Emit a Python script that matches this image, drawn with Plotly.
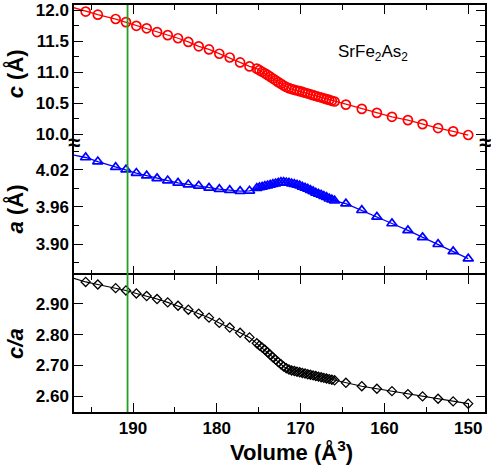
import plotly.graph_objects as go

# объём ячейки (Å^3)
volume = [198.0, 195.65, 194.2, 192.07, 190.84, 189.6, 188.37, 187.13, 185.86, 184.63,
          183.4, 182.16, 180.93, 179.7, 178.46, 177.22, 176.1,
          175.23, 174.91, 174.59, 174.27, 173.95, 173.63, 173.31, 172.99, 172.67, 172.35,
          172.03, 171.71, 171.39, 171.07, 170.75, 170.43, 170.11, 169.79, 169.47, 169.15,
          168.83, 168.51, 168.19, 167.87, 167.55, 167.23, 166.91, 166.59, 166.27, 165.95,
          164.6, 162.7, 160.9, 159.1, 157.2, 155.45, 153.6, 151.8, 150.0]

c_param = [12.08, 11.98, 11.93, 11.86, 11.81, 11.75, 11.71, 11.65, 11.60, 11.55,
           11.49, 11.42, 11.37, 11.30, 11.24, 11.16, 11.095,
           11.06, 11.035, 11.01, 10.985, 10.958, 10.93, 10.90, 10.872, 10.843, 10.816,
           10.788, 10.764, 10.746, 10.731, 10.719, 10.708, 10.698, 10.684, 10.671, 10.659,
           10.646, 10.633, 10.619, 10.607, 10.595, 10.582, 10.569, 10.555, 10.542, 10.53,
           10.48, 10.411, 10.347, 10.283, 10.23, 10.166, 10.102, 10.049, 9.99]

a_param = [4.046, 4.0396, 4.033, 4.024, 4.020, 4.0146, 4.0104, 4.006, 4.0025, 3.9987,
           3.996, 3.994, 3.9907, 3.9886, 3.987, 3.9855, 3.986,
           3.9902, 3.9913, 3.9923, 3.9934, 3.9945, 3.9955, 3.9966, 3.9977, 3.9987, 3.9998,
           3.9998, 3.9993, 3.9987, 3.9977, 3.9966, 3.9955, 3.9945, 3.9923, 3.9907, 3.9891,
           3.987, 3.985, 3.9828, 3.9812, 3.9796, 3.9775, 3.9759, 3.9732, 3.9716, 3.970,
           3.9653, 3.9547, 3.944, 3.9334, 3.9223, 3.9111, 3.900, 3.8884, 3.8768]

c_over_a = [2.99, 2.9707, 2.9623, 2.9505, 2.943, 2.9334, 2.9248, 2.9151, 2.9044, 2.8936,
            2.8807, 2.8678, 2.855, 2.838, 2.8228, 2.8058, 2.791,
            2.772, 2.765, 2.758, 2.751, 2.743, 2.735, 2.727, 2.719, 2.711, 2.704,
            2.697, 2.691, 2.687, 2.684, 2.682, 2.680, 2.678, 2.676, 2.674, 2.672,
            2.670, 2.668, 2.666, 2.664, 2.662, 2.660, 2.658, 2.656, 2.654, 2.652,
            2.644, 2.633, 2.6247, 2.617, 2.6074, 2.600, 2.5925, 2.5839, 2.5765]

v_mark = 190.65  # зелёная вертикальная линия

FONT = 'Liberation Sans'
tickfont = dict(family=FONT, size=17, color='black', weight=700)
titlefont = dict(family=FONT, size=22, color='black', weight=700)

fig = go.Figure()
fig.add_trace(go.Scatter(x=volume, y=c_param, xaxis='x', yaxis='y', mode='lines+markers',
                         line=dict(color='red', width=1.3),
                         marker=dict(symbol='circle-open', size=9, color='red', line=dict(width=1.7))))
fig.add_trace(go.Scatter(x=volume, y=a_param, xaxis='x2', yaxis='y2', mode='lines+markers',
                         line=dict(color='blue', width=1.3),
                         marker=dict(symbol='triangle-up-open', size=9, color='blue', line=dict(width=1.7))))
fig.add_trace(go.Scatter(x=volume, y=c_over_a, xaxis='x3', yaxis='y3', mode='lines+markers',
                         line=dict(color='black', width=1.1),
                         marker=dict(symbol='diamond-open', size=7, color='black', line=dict(width=1.3))))

xr = [197.04, 148.0]
ax = dict(showline=True, linecolor='black', linewidth=1.5, ticks='inside', ticklen=9,
          tickwidth=1.3, tickcolor='black', showgrid=False, zeroline=False, tickfont=tickfont,
          ticklabeloverflow='allow')
xminor = dict(dtick=5, ticks='inside', ticklen=5, tickwidth=1.3, tickcolor='black', showgrid=False)

fig.update_layout(
    width=491, height=465, showlegend=False,
    plot_bgcolor='white', paper_bgcolor='white',
    margin=dict(l=74, r=6, t=1, b=53),
    xaxis=dict(ax, range=xr, dtick=10, side='top', anchor='y', mirror=False,
               showticklabels=False, minor=xminor),
    xaxis2=dict(ax, range=xr, dtick=10, anchor='y2', mirror=False, matches='x', showline=False,
                showticklabels=False, minor=xminor),
    xaxis3=dict(ax, range=xr, dtick=10, anchor='y3', mirror='ticks', matches='x',
                minor=xminor),
    yaxis=dict(ax, domain=[0.6618, 1.0], range=[9.867, 12.086], dtick=0.5, tickformat='.1f',
               mirror='ticks', minor=dict(dtick=0.25, ticks='inside', ticklen=5, tickwidth=1.3),
               title=dict(text='<i>c</i> (Å)', font=titlefont, standoff=6)),
    yaxis2=dict(ax, domain=[0.3358, 0.6618], range=[3.850, 4.0635], tick0=3.90, dtick=0.06,
                tickformat='.2f', mirror='ticks',
                minor=dict(tick0=3.87, dtick=0.06, ticks='inside', ticklen=5, tickwidth=1.3),
                title=dict(text='<i>a</i> (Å)', font=titlefont, standoff=6)),
    yaxis3=dict(ax, domain=[0.0, 0.3358], range=[2.5495, 2.992], dtick=0.1, tickformat='.2f',
                mirror='ticks',
                title=dict(text='<i>c/a</i>', font=titlefont, standoff=6)),
)

fig.add_annotation(x=0.53, y=-0.095, xref='paper', yref='paper', showarrow=False,
                   text='Volume (Å<sup>3</sup>)', xanchor='center', yanchor='middle',
                   font=dict(family=FONT, size=22, color='black', weight=700))
fig.add_annotation(x=0.727, y=0.881, xref='paper', yref='paper', showarrow=False,
                   text='SrFe<sub>2</sub>As<sub>2</sub>', xanchor='center', yanchor='middle',
                   font=dict(family=FONT, size=17, color='black'))
for xp in [0.0, 1.0]:
    fig.add_annotation(x=xp, y=0.6618, xref='paper', yref='paper', showarrow=False,
                       text='≈', xanchor='center', yanchor='middle',
                       font=dict(family=FONT, size=22, color='black', weight=700))

fig.add_shape(type='line', xref='x', yref='paper', x0=v_mark, x1=v_mark, y0=0, y1=1,
              line=dict(color='#22a022', width=1.8))

fig.write_html("out.html", config={'displayModeBar': False},
               post_script="document.body.style.margin='0';")
